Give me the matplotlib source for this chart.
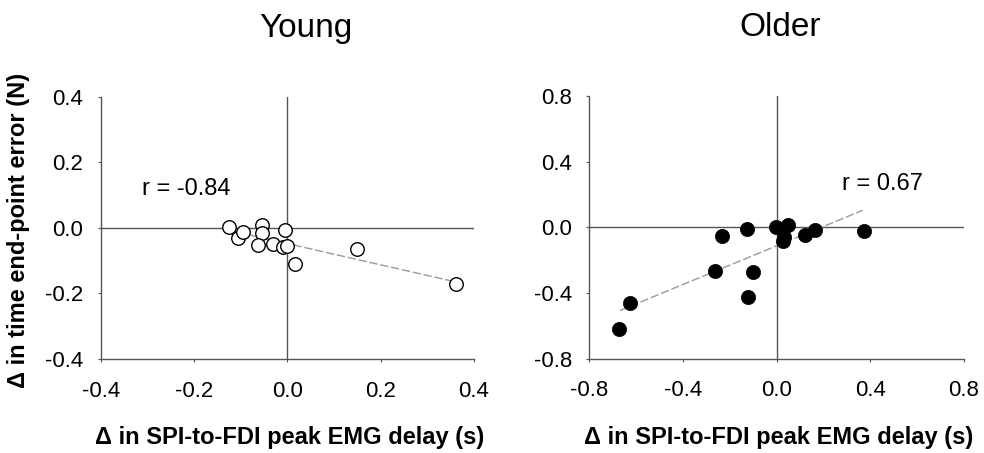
import matplotlib
matplotlib.use("Agg")
import matplotlib.pyplot as plt

plt.rcParams['font.family'] = ['Liberation Sans', 'DejaVu Sans']

# change in SPI-to-FDI peak EMG delay (s) vs change in end-point error (N)
young_x = [-0.126, -0.105, -0.094, -0.055, -0.055, -0.062, -0.030, -0.005, -0.009, 0.000, 0.016, 0.149, 0.361]
young_y = [0.003, -0.032, -0.012, 0.010, -0.017, -0.051, -0.048, -0.007, -0.058, -0.055, -0.109, -0.063, -0.170]
young_fit_x = [-0.126, 0.361]
young_fit_y = [-0.007, -0.165]
young_r = -0.84

older_x = [-0.673, -0.626, -0.263, -0.235, -0.128, -0.124, -0.102, -0.003, 0.026, 0.031, 0.050, 0.121, 0.164, 0.373]
older_y = [-0.619, -0.461, -0.268, -0.055, -0.008, -0.424, -0.274, 0.000, -0.085, -0.059, 0.012, -0.044, -0.014, -0.020]
older_fit_x = [-0.669, 0.367]
older_fit_y = [-0.506, 0.104]
older_r = 0.67

young_ticks = [-0.4, -0.2, 0.0, 0.2, 0.4]
older_ticks = [-0.8, -0.4, 0.0, 0.4, 0.8]

xlabel = '\u0394 in SPI-to-FDI peak EMG delay (s)'
ylabel = '\u0394 in time end-point error (N)'

fig = plt.figure(figsize=(9.84, 4.53), dpi=100)
ax1 = fig.add_axes([0.1023, 0.2075, 0.3794, 0.579])
ax2 = fig.add_axes([0.5989, 0.208, 0.3808, 0.58])


def style_axes(ax, ticks):
    lim = (ticks[0], ticks[-1])
    ax.set_xlim(lim)
    ax.set_ylim(lim)
    ax.set_xticks(ticks)
    ax.set_yticks(ticks)
    ax.set_xticklabels(['%.1f' % t for t in ticks])
    ax.set_yticklabels(['%.1f' % t for t in ticks])
    for s in ['top', 'right']:
        ax.spines[s].set_visible(False)
    for s in ['left', 'bottom']:
        ax.spines[s].set_color('#555555')
        ax.spines[s].set_linewidth(1.0)
    ax.axhline(0, color='#555555', lw=1.0, zorder=1)
    ax.axvline(0, color='#555555', lw=1.0, zorder=1)
    ax.tick_params(axis='both', direction='out', length=2.5, width=0.8,
                   color='#555555', labelsize=16)
    ax.tick_params(axis='y', pad=10)
    ax.tick_params(axis='x', pad=13)
    ax.set_xlabel(xlabel, fontsize=17, fontweight='bold')
    ax.xaxis.set_label_coords(0.505, -0.255)


style_axes(ax1, young_ticks)
ax1.plot(young_fit_x, young_fit_y, color='#9a9a9a', lw=1.0, ls=(0, (6, 2)), zorder=2)
ax1.scatter(young_x, young_y, s=95, facecolors='white', edgecolors='black',
            linewidths=1.0, zorder=3)
ax1.text(-0.312, 0.118, 'r = %.2f' % young_r, fontsize=17, va='center', ha='left')
ax1.set_title('Young', fontsize=24, x=0.55, pad=43)
ax1.set_ylabel(ylabel, fontsize=17, fontweight='bold')
ax1.yaxis.set_label_coords(-0.19, 0.49)

style_axes(ax2, older_ticks)
ax2.plot(older_fit_x, older_fit_y, color='#9a9a9a', lw=1.0, ls=(0, (6, 2)), zorder=2)
ax2.scatter(older_x, older_y, s=105, facecolors='black', edgecolors='black',
            linewidths=0.5, zorder=3)
ax2.text(0.278, 0.266, 'r = %.2f' % older_r, fontsize=17, va='center', ha='left')
ax2.set_title('Older', fontsize=24, x=0.51, pad=43)

fig.savefig('out.png', dpi=100)
